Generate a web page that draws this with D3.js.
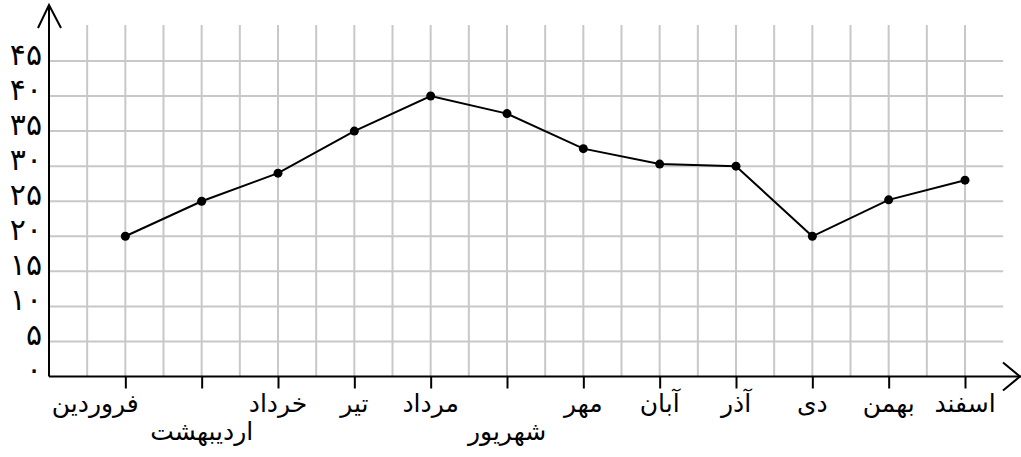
<!DOCTYPE html>
<html>
<head>
<meta charset="utf-8">
<script src="https://cdn.jsdelivr.net/npm/d3@7"></script>
<style>
  body { margin: 0; background: #fff; }
  text { font-family: "DejaVu Sans", sans-serif; fill: #000; }
</style>
</head>
<body>
<div class="chart"></div>
<script>
var months = ["فروردین", "اردیبهشت", "خرداد", "تیر", "مرداد", "شهریور",
  "مهر", "آبان", "آذر", "دی", "بهمن", "اسفند"];
var values = [20, 25, 29, 35, 40, 37.5, 32.5, 30.3, 30, 20, 25.2, 28];
var yTicks = [0, 5, 10, 15, 20, 25, 30, 35, 40, 45];

var svgWidth = 1021;
var svgHeight = 457;

var svg = d3.select(".chart")
  .append("svg")
  .attr("width", svgWidth)
  .attr("height", svgHeight);

// month index -1 sits on the y axis
var x = d3.scaleLinear().domain([-1, 11]).range([49, 965]);
var y = d3.scaleLinear().domain([0, 45]).range([376.5, 61]);

var fa = function(v) {
  return String(v).replace(/\d/g, function(c) { return "۰۱۲۳۴۵۶۷۸۹"[c]; });
};

// grid
var halfSteps = d3.range(-0.5, 11.01, 0.5);
svg.append("g")
  .selectAll("line")
  .data(halfSteps)
  .enter()
  .append("line")
  .attr("x1", d => x(d))
  .attr("x2", d => x(d))
  .attr("y1", 25)
  .attr("y2", y(0))
  .attr("stroke", "#c8c8c8")
  .attr("stroke-width", 2);

svg.append("g")
  .selectAll("line")
  .data(yTicks.slice(1))
  .enter()
  .append("line")
  .attr("x1", x(-1))
  .attr("x2", x(11.5))
  .attr("y1", d => y(d))
  .attr("y2", d => y(d))
  .attr("stroke", "#c8c8c8")
  .attr("stroke-width", 2);

// x axis ticks
var bottomAxis = d3.axisBottom(x)
  .tickValues(d3.range(0, 12))
  .tickSize(12)
  .tickFormat("");

var xAxis = svg.append("g")
  .attr("transform", `translate(0, ${y(0)})`)
  .call(bottomAxis);
xAxis.select(".domain").remove();
xAxis.selectAll(".tick line").attr("stroke", "#000").attr("stroke-width", 2);

// y axis labels
var leftAxis = d3.axisLeft(y)
  .tickValues(yTicks)
  .tickSize(0)
  .tickPadding(7)
  .tickFormat(fa);

var yAxis = svg.append("g")
  .attr("transform", `translate(${x(-1)}, 0)`)
  .call(leftAxis);
yAxis.select(".domain").remove();
yAxis.selectAll(".tick text")
  .attr("font-size", 30)
  .attr("font-family", "DejaVu Sans")
  .attr("dy", "0.1em");

// axis lines with open arrows
svg.append("line")
  .attr("x1", x(-1)).attr("x2", 1021)
  .attr("y1", y(0)).attr("y2", y(0))
  .attr("stroke", "#000").attr("stroke-width", 2);
svg.append("path")
  .attr("d", `M1003,${y(0) - 14}L1020,${y(0)}L1003,${y(0) + 14}`)
  .attr("fill", "none").attr("stroke", "#000").attr("stroke-width", 2);

svg.append("line")
  .attr("x1", x(-1)).attr("x2", x(-1))
  .attr("y1", y(0)).attr("y2", 5)
  .attr("stroke", "#000").attr("stroke-width", 2);
svg.append("path")
  .attr("d", `M${x(-1) - 11},28L${x(-1)},5L${x(-1) + 12},28`)
  .attr("fill", "none").attr("stroke", "#000").attr("stroke-width", 2);

// month labels, the two long ones drop to a second row
svg.append("g")
  .selectAll("text")
  .data(months)
  .enter()
  .append("text")
  .attr("x", (d, i) => x(i) + (i === 0 ? -30 : 0))
  .attr("y", (d, i) => (i === 1 || i === 5) ? 440 : 412)
  .attr("text-anchor", "middle")
  .attr("font-size", 25)
  .text(d => d);

// line and points
var line = d3.line()
  .x((d, i) => x(i))
  .y(d => y(d));

svg.append("path")
  .datum(values)
  .attr("d", line)
  .attr("fill", "none")
  .attr("stroke", "#000")
  .attr("stroke-width", 2);

svg.append("g")
  .selectAll("circle")
  .data(values)
  .enter()
  .append("circle")
  .attr("cx", (d, i) => x(i))
  .attr("cy", d => y(d))
  .attr("r", 4.5)
  .attr("fill", "#000");
</script>
</body>
</html>
